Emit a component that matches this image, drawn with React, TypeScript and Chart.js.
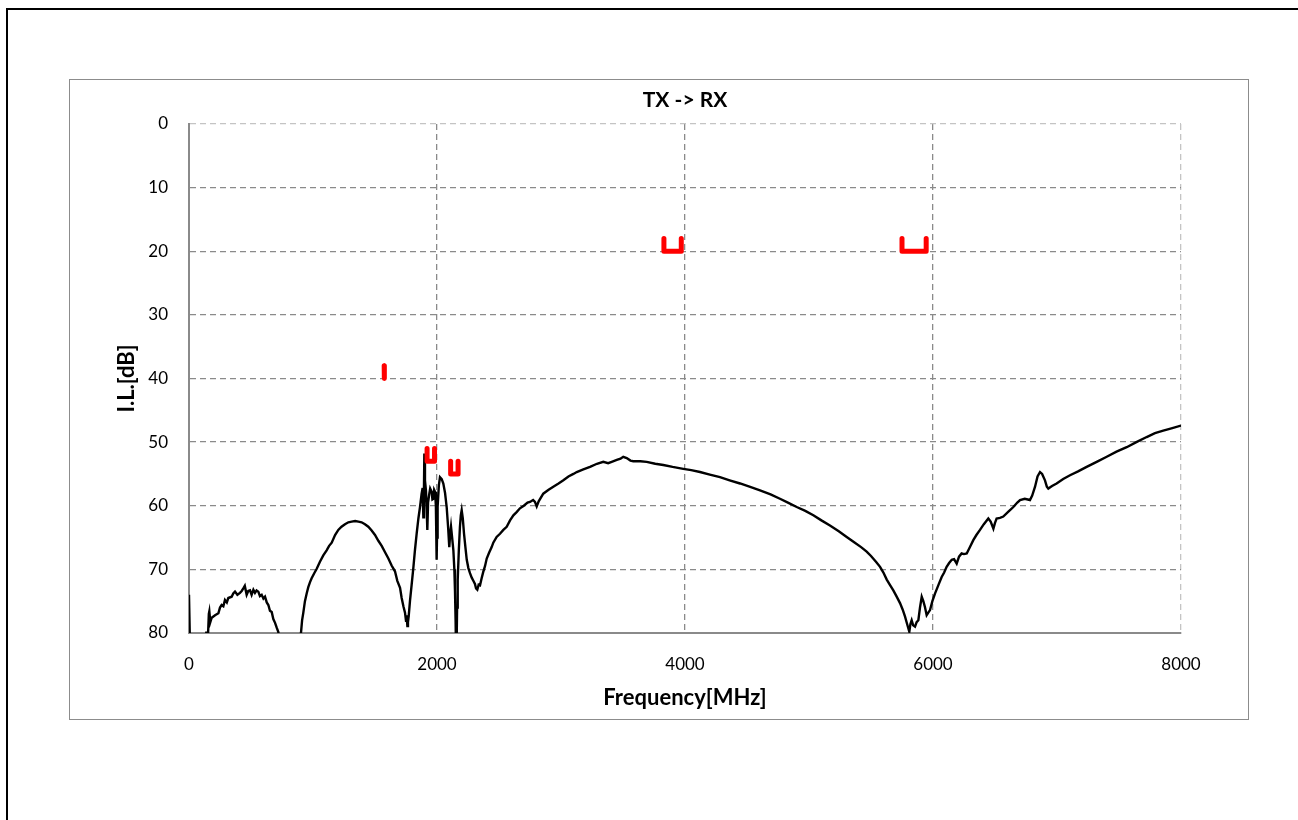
import { useEffect, useRef } from "react";
import { Chart, registerables } from "chart.js";

Chart.register(...registerables);

const chartTitle = "TX -> RX";
const xAxisTitle = "Frequency[MHz]";
const yAxisTitle = "I.L.[dB]";

// Measured trace: frequency [MHz]
const freqMHz = [
  0, 10, 130, 140, 150, 160, 164, 172, 183, 210,
  237, 250, 263, 277, 290, 305, 317, 344, 357, 371,
  390, 411, 425, 438, 450, 465, 478, 492, 505, 519,
  532, 545, 559, 572, 586, 600, 613, 627, 640, 653,
  667, 680, 694, 708, 720, 735, 890, 903, 912, 922,
  935, 949, 962, 976, 989, 1010, 1030, 1056, 1083, 1110,
  1130, 1151, 1178, 1204, 1230, 1258, 1285, 1312, 1340, 1366,
  1392, 1419, 1446, 1473, 1500, 1527, 1554, 1581, 1608, 1634,
  1661, 1680, 1702, 1715, 1729, 1742, 1750, 1755, 1761, 1766,
  1772, 1782, 1795, 1809, 1822, 1836, 1850, 1863, 1876, 1884,
  1890, 1895, 1898, 1903, 1911, 1917, 1922, 1928, 1938, 1945,
  1957, 1963, 1970, 1977, 1984, 1991, 1997, 2000, 2005, 2015,
  2024, 2038, 2051, 2065, 2078, 2090, 2099, 2106, 2113, 2122,
  2132, 2140, 2145, 2150, 2153, 2158, 2162, 2167, 2176, 2185,
  2192, 2199, 2208, 2218, 2229, 2240, 2253, 2266, 2280, 2293,
  2306, 2315, 2325, 2336, 2347, 2360, 2373, 2387, 2401, 2420,
  2441, 2454, 2481, 2508, 2535, 2562, 2589, 2616, 2642, 2669,
  2700, 2730, 2750, 2775, 2790, 2804, 2820, 2857, 2900, 2938,
  2980, 3019, 3060, 3100, 3127, 3180, 3234, 3290, 3341, 3380,
  3409, 3450, 3480, 3502, 3530, 3560, 3583, 3640, 3691, 3760,
  3825, 3900, 3986, 4050, 4121, 4200, 4282, 4360, 4444, 4520,
  4605, 4690, 4766, 4830, 4901, 4970, 5035, 5100, 5169, 5240,
  5304, 5370, 5420, 5465, 5500, 5540, 5573, 5600, 5627, 5655,
  5680, 5705, 5734, 5755, 5774, 5790, 5809, 5818, 5828, 5840,
  5855, 5868, 5882, 5895, 5909, 5922, 5935, 5949, 5962, 5976,
  5995, 6016, 6045, 6070, 6090, 6110, 6130, 6151, 6170, 6191,
  6210, 6231, 6250, 6272, 6300, 6325, 6350, 6379, 6410, 6446,
  6465, 6487, 6500, 6513, 6540, 6567, 6610, 6648, 6680, 6702,
  6740, 6782, 6800, 6823, 6843, 6863, 6880, 6903, 6918, 6930,
  6960, 6997, 7050, 7105, 7170, 7239, 7320, 7401, 7480, 7562,
  7640, 7723, 7790, 7857, 7930, 8000,
];

// Measured trace: insertion loss [dB]
const insertionLossDb = [
  74, 84, 82, 79.8, 82, 77, 76.6, 78.3, 77.6, 77.2,
  76.9, 76, 75.6, 75.8, 74.8, 75.2, 74.5, 74.3, 73.8, 73.5,
  74, 73.7, 73.4, 73, 72.6, 74, 73.4, 73.3, 74, 73.2,
  73.7, 73.3, 73.5, 74.2, 74, 74.6, 74.3, 75.2, 75.6, 76.5,
  76.7, 77.8, 78.4, 79.2, 79.8, 82, 82, 80, 78, 76.8,
  75, 73.8, 72.8, 72, 71.4, 70.6, 69.9, 68.8, 67.8, 67,
  66.3, 65.8, 64.6, 63.8, 63.3, 62.9, 62.6, 62.5, 62.4, 62.5,
  62.6, 62.9, 63.3, 63.9, 64.6, 65.5, 66.3, 67.3, 68.3, 69.4,
  70.3, 71.8, 72.9, 74.5, 75.8, 76.8, 78.1, 77.2, 78.9, 78.3,
  77.3, 75, 72.5, 69.8, 67, 64.4, 62, 60.2, 58.1, 57.2,
  61.8, 57, 51.8, 56, 57.6, 60.5, 63.8, 59.5, 58.1, 57.3,
  57.8, 59, 58.9, 57.5, 57.8, 60, 68.5, 65, 60.2, 56.8,
  55.5, 55.8, 56.5, 58, 60.2, 63.5, 66.5, 64.5, 63.3, 65,
  67, 70, 73.3, 78, 82, 82, 76, 71.7, 67, 63.3,
  61.5, 60.7, 62, 64.4, 66.5, 68.5, 69.8, 70.6, 71.3, 71.8,
  72.3, 73, 73.2, 72.4, 72.5, 71.4, 70.4, 69.5, 68.3, 67.4,
  66.5, 65.8, 64.9, 64.4, 63.8, 63.3, 62.3, 61.5, 61, 60.4,
  60, 59.5, 59.4, 59.1, 59.4, 60.1, 59.3, 58.1, 57.5, 57,
  56.5, 56, 55.4, 55, 54.7, 54.3, 53.9, 53.4, 53.1, 53.3,
  53.1, 52.8, 52.6, 52.3, 52.5, 52.9, 53, 53, 53.1, 53.4,
  53.6, 53.9, 54.2, 54.4, 54.7, 55.1, 55.5, 56, 56.5, 57,
  57.6, 58.2, 58.9, 59.5, 60.2, 60.8, 61.5, 62.3, 63.1, 64,
  64.9, 65.8, 66.5, 67.2, 67.9, 68.8, 69.6, 70.5, 71.6, 72.5,
  73.3, 74.2, 75.3, 76.3, 77.4, 78.5, 79.8, 78.6, 78, 78.8,
  79, 78.3, 78, 76, 74.3, 75, 75.9, 77.2, 76.8, 76.4,
  75, 73.8, 72.4, 71.2, 70.5, 69.6, 69, 68.5, 68.4, 69.1,
  68, 67.5, 67.6, 67.5, 66.4, 65.4, 64.6, 63.8, 62.9, 62,
  62.5, 63.6, 62.7, 62, 61.9, 61.7, 60.9, 60.2, 59.5, 59.1,
  58.9, 59.1, 58.4, 57, 55.4, 54.7, 55, 56, 57, 57.3,
  56.9, 56.5, 55.8, 55.2, 54.6, 53.9, 53.1, 52.3, 51.5, 50.8,
  50, 49.2, 48.6, 48.2, 47.8, 47.4,
];

// Spec masks (red brackets)
const maskStartMHz = [1574, 1920, 2110, 3830, 5750];
const maskEndMHz = [1576, 1980, 2170, 3970, 5945];
const maskTopDb = [38, 51, 53, 18, 18];
const maskBottomDb = [40, 53, 55, 20, 20];

const xTicks = [0, 2000, 4000, 6000, 8000];
const yTicks = [0, 10, 20, 30, 40, 50, 60, 70, 80];

const FONT = "Lato, 'Open Sans', sans-serif";
const GRID = "#8a8a8a";
const GRID_LIGHT = "#c4c4c4";

export default function App() {
  const canvasRef = useRef<HTMLCanvasElement | null>(null);

  useEffect(() => {
    const canvas = canvasRef.current;
    if (!canvas) return;

    const traceData = freqMHz.map((f, i) => ({ x: f, y: insertionLossDb[i] }));
    const maskSets = maskStartMHz.map((s, i) => ({
      label: "mask" + i,
      data: [
        { x: s, y: maskTopDb[i] },
        { x: s, y: maskBottomDb[i] },
        { x: maskEndMHz[i], y: maskBottomDb[i] },
        { x: maskEndMHz[i], y: maskTopDb[i] },
      ],
      borderColor: "#ff0000",
      borderWidth: 5,
      borderCapStyle: "round" as const,
      borderJoinStyle: "round" as const,
      pointRadius: 0,
      tension: 0,
      order: 0,
    }));

    const chart = new Chart(canvas, {
      type: "line",
      data: {
        datasets: [
          ...maskSets,
          {
            label: "TX->RX",
            data: traceData,
            borderColor: "#000000",
            borderWidth: 2.4,
            pointRadius: 0,
            tension: 0,
            order: 1,
          },
        ],
      },
      options: {
        animation: false,
        responsive: false,
        devicePixelRatio: 1,
        parsing: false,
        layout: { padding: { left: 100, right: 117, top: 0, bottom: 100 } },
        plugins: {
          legend: { display: false },
          tooltip: { enabled: false },
          title: {
            display: true,
            fullSize: false,
            text: chartTitle,
            color: "#000",
            font: { family: FONT, size: 21, weight: "bold", lineHeight: 1.2 },
            padding: { top: 87.4, bottom: 11.4 },
          },
        },
        scales: {
          x: {
            type: "linear",
            min: 0,
            max: 8000,
            afterBuildTicks: (scale: any) => {
              scale.ticks = xTicks.map((v) => ({ value: v }));
            },
            afterFit: (scale: any) => {
              scale.height = 87;
            },
            ticks: {
              padding: 21,
              color: "#000",
              font: { family: FONT, size: 17 },
              callback: (v: any) => String(v),
              maxRotation: 0,
            },
            grid: {
              drawTicks: false,
              lineWidth: 1.3,
              color: (ctx: any) =>
                ctx.tick && ctx.tick.value === 8000 ? GRID_LIGHT : GRID,
            },
            border: { display: true, color: GRID, width: 2, dash: [6, 4] },
            title: {
              display: true,
              text: xAxisTitle,
              color: "#000",
              font: { family: FONT, size: 22, weight: "bold" },
              padding: { top: 0, bottom: 9 },
            },
          },
          y: {
            type: "linear",
            reverse: true,
            min: 0,
            max: 80,
            afterBuildTicks: (scale: any) => {
              scale.ticks = yTicks.map((v) => ({ value: v }));
            },
            afterFit: (scale: any) => {
              scale.width = 89;
            },
            ticks: {
              padding: 21,
              color: "#000",
              font: { family: FONT, size: 17 },
              callback: (v: any) => String(v),
            },
            grid: {
              drawTicks: false,
              lineWidth: 1.3,
              color: (ctx: any) =>
                ctx.tick && ctx.tick.value === 0 ? GRID_LIGHT : GRID,
            },
            border: { display: true, color: GRID, width: 2, dash: [6, 4] },
            title: {
              display: true,
              text: yAxisTitle,
              color: "#000",
              font: { family: FONT, size: 22, weight: "bold" },
              padding: { top: 14, bottom: 0 },
            },
          },
        },
      },
    } as any);

    return () => {
      chart.destroy();
    };
  }, []);

  return (
    <div>
      <div
        style={{
          position: "fixed",
          left: 6,
          top: 8,
          width: 1320,
          height: 840,
          border: "2px solid #000",
          boxSizing: "border-box",
          background: "#fff",
        }}
      />
      <div
        style={{
          position: "fixed",
          left: 69,
          top: 79,
          width: 1180,
          height: 641,
          border: "1px solid #8c8c8c",
          boxSizing: "border-box",
        }}
      />
      <canvas
        ref={canvasRef}
        width={1298}
        height={820}
        style={{ position: "fixed", left: 0, top: 0, width: 1298, height: 820 }}
      />
    </div>
  );
}
